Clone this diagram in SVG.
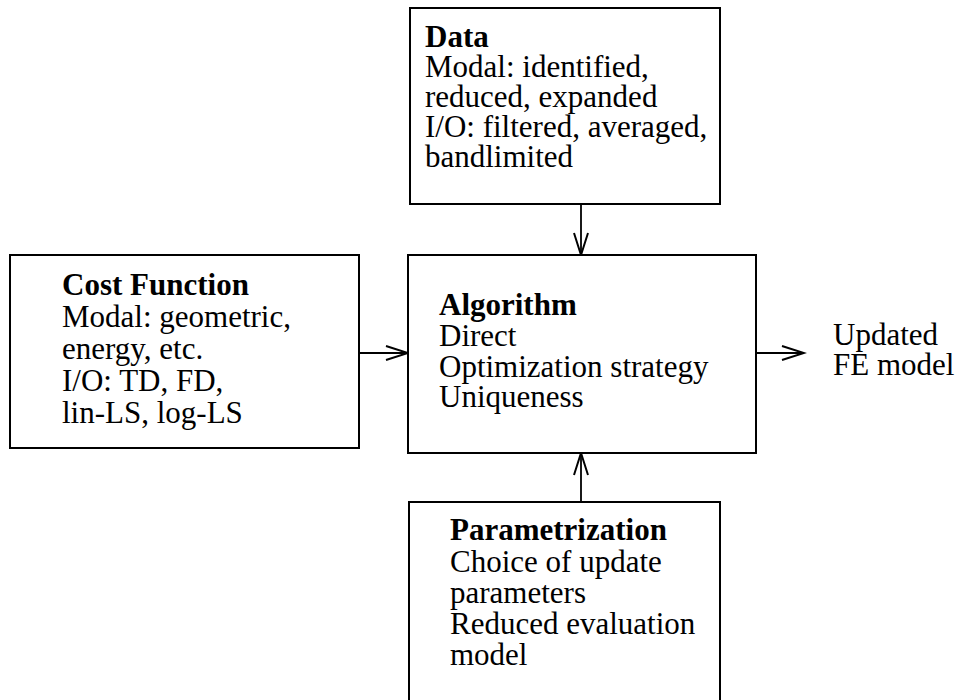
<svg xmlns="http://www.w3.org/2000/svg" width="962" height="700" viewBox="0 0 962 700">
<style>
.box{fill:#fff;stroke:#000;stroke-width:2}
.t{font-family:"Liberation Serif","Times New Roman",serif;font-size:31px;fill:#000}
.b{font-weight:bold}
.c{stroke:#000;stroke-width:1.8;fill:none}
</style>
<defs>
<marker id="ah" markerUnits="userSpaceOnUse" markerWidth="26" markerHeight="18" refX="23" refY="8" orient="auto">
<path d="M1,1 L23,8 L1,15" fill="none" stroke="#000" stroke-width="2"/>
</marker>
</defs>
<rect width="962" height="700" fill="#fff"/>
<g id="connectors">
<line class="c" x1="581" y1="204" x2="581" y2="255" marker-end="url(#ah)"/>
<line class="c" x1="581" y1="502" x2="581" y2="453" marker-end="url(#ah)"/>
<line class="c" x1="359" y1="353" x2="408" y2="353" marker-end="url(#ah)"/>
<line class="c" x1="756" y1="353" x2="804" y2="353" marker-end="url(#ah)"/>
</g>
<g id="data">
<rect class="box" x="410" y="8" width="310" height="196"/>
<text class="t b" x="425" y="47">Data</text>
<text class="t" x="425" y="77">Modal: identified,</text>
<text class="t" x="425" y="107">reduced, expanded</text>
<text class="t" x="425" y="137">I/O: filtered, averaged,</text>
<text class="t" x="425" y="167">bandlimited</text>
</g>
<g id="cost">
<rect class="box" x="10" y="255" width="349" height="193"/>
<text class="t b" x="62" y="295">Cost Function</text>
<text class="t" x="62" y="327">Modal: geometric,</text>
<text class="t" x="62" y="359">energy, etc.</text>
<text class="t" x="62" y="391">I/O: TD, FD,</text>
<text class="t" x="62" y="423">lin-LS, log-LS</text>
</g>
<g id="algorithm">
<rect class="box" x="408" y="255" width="348" height="198"/>
<text class="t b" x="439" y="315">Algorithm</text>
<text class="t" x="439" y="346">Direct</text>
<text class="t" x="439" y="377">Optimization strategy</text>
<text class="t" x="439" y="407">Uniqueness</text>
</g>
<g id="output">
<text class="t" x="833" y="345">Updated</text>
<text class="t" x="833" y="375">FE model</text>
</g>
<g id="parametrization">
<rect class="box" x="409" y="502" width="311" height="210"/>
<text class="t b" x="450" y="540">Parametrization</text>
<text class="t" x="450" y="572">Choice of update</text>
<text class="t" x="450" y="603">parameters</text>
<text class="t" x="450" y="634">Reduced evaluation</text>
<text class="t" x="450" y="665">model</text>
</g>
</svg>
